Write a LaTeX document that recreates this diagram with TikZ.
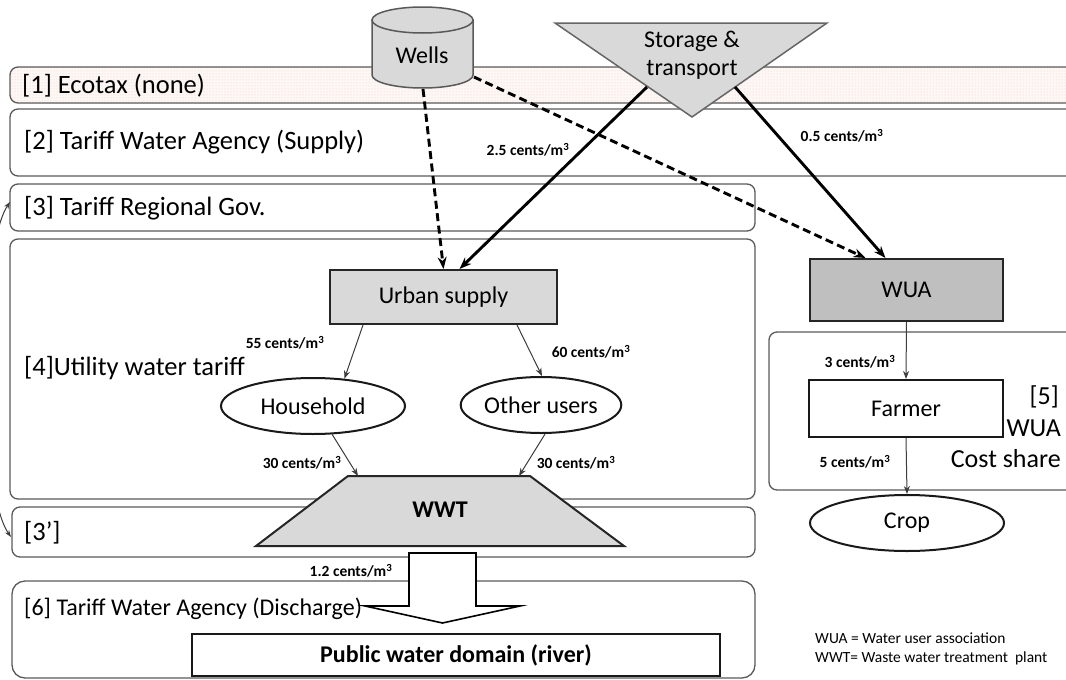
\documentclass[tikz,border=0pt]{standalone}
\usepackage{fontspec}
\setmainfont{Carlito}
\usetikzlibrary{patterns,arrows.meta,shapes.geometric}
\definecolor{boxgray}{RGB}{217,217,217}
\definecolor{wuagray}{RGB}{191,191,191}
\definecolor{bandline}{RGB}{90,90,90}
\definecolor{dotcol}{RGB}{238,200,190}
\definecolor{dotbg}{RGB}{253,248,246}
\definecolor{thinline}{RGB}{60,60,60}
\begin{document}
\begin{tikzpicture}[x=1pt,y=-1pt,
  band/.style={draw=bandline, line width=1.3pt, rounded corners=8pt, fill=white},
  bandlbl/.style={anchor=west, inner sep=0pt, font=\fontsize{26.5}{30}\selectfont},
  price/.style={inner sep=0pt, font=\fontsize{15.5}{17}\selectfont\bfseries},
  nodetxt/.style={font=\fontsize{24}{28}\selectfont},
  graybox/.style={draw=black!85, line width=2pt, fill=boxgray, inner sep=0pt, nodetxt},
  whitebox/.style={draw=black!90, line width=2pt, fill=white, inner sep=0pt, nodetxt},
  ellnode/.style={ellipse, draw=black!90, line width=2pt, fill=white, inner sep=0pt, nodetxt},
  fat/.style={line width=2.9pt, -{Stealth[length=12pt,width=9pt]}},
  fatdash/.style={fat, dash pattern=on 8pt off 4.5pt},
  thinarr/.style={draw=thinline, line width=1pt, -{Stealth[length=8pt,width=6pt]}},
  sidearr/.style={draw=thinline, line width=1pt, {Stealth[length=7pt,width=5pt]}-{Stealth[length=7pt,width=5pt]}}
]
\useasboundingbox (0,0) rectangle (1066,680);
\clip (0,0) rectangle (1066,680);

% ---------- bands ----------
\fill[dotbg, rounded corners=8pt] (10,67) rectangle (1090,103);
\fill[pattern=dots, pattern color=dotcol, rounded corners=8pt] (10,67) rectangle (1090,103);
\draw[draw=bandline, line width=1.3pt, rounded corners=8pt] (10,67) rectangle (1090,103);
\path[band] (10,109) rectangle (1090,176);
\path[band] (10,184) rectangle (755,231);
\path[band] (10,239) rectangle (755,499);
\path[band] (12,507) rectangle (755,557);
\path[band, rounded corners=13pt] (12,581) rectangle (755,678);
\path[band] (769,332) rectangle (1090,490);

\node[bandlbl] (l1) at (22,86) {[1] Ecotax (none)};
\node[bandlbl] (l2) at (24,142) {[2] Tariff Water Agency (Supply)};
\node[bandlbl] (l3) at (24,208) {[3] Tariff Regional Gov.};
\node[bandlbl] (l4) at (24,368) {[4]Utility water tariff};
\node[bandlbl] (l3p) at (24,533) {[3’]};
\node[bandlbl, font=\fontsize{24}{28}\selectfont] (l6) at (24,609) {[6] Tariff Water Agency (Discharge)};
\node[anchor=east, inner sep=0pt, font=\fontsize{26}{30}\selectfont] (l5a) at (1059,397) {[5]};
\node[anchor=east, inner sep=0pt, font=\fontsize{26}{30}\selectfont] (l5b) at (1061,428) {WUA};
\node[anchor=east, inner sep=0pt, font=\fontsize{26}{30}\selectfont] (l5c) at (1061,459) {Cost share};

% side arrow between [3] and [3']
\coordinate (b3) at (10,202);
\coordinate (b3p) at (11,537);
\draw[sidearr] (b3) .. controls (-22,250) and (-22,490) .. (b3p);

% ---------- sources ----------
\filldraw[fill=boxgray, draw=black!65, line width=1.5pt] (372,20) -- (372,75) arc[start angle=180, end angle=0, x radius=50.5, y radius=13] -- (473,20) -- cycle;
\filldraw[fill=boxgray, draw=black!65, line width=1.5pt] (422.5,20) ellipse[x radius=50.5, y radius=13];
\node[nodetxt] (wells) at (422,55) {Wells};
\coordinate (wellsB) at (423,89);
\coordinate (wellsR) at (474,77);

\filldraw[fill=boxgray, draw=black!60, line width=1.5pt] (555,23) -- (827,23) -- (692,117) -- cycle;
\node[nodetxt, align=center] (storage) at (692,55) {Storage \&\\transport};
\coordinate (stL) at (647,87);
\coordinate (stR) at (735,87);

% ---------- nodes ----------
\node[graybox, minimum width=227pt, minimum height=54pt] (urban) at (443.5,297) {Urban supply};
\node[graybox, fill=wuagray, minimum width=193pt, minimum height=62pt] (wua) at (906.5,290) {WUA};
\node[whitebox, minimum width=194pt, minimum height=57pt] (farmer) at (906,408.5) {Farmer};
\node[ellnode, minimum width=194pt, minimum height=56pt] (crop) at (907,523) {Crop};
\node[ellnode, minimum width=184pt, minimum height=56pt] (house) at (313,406) {Household};
\node[ellnode, minimum width=156pt, minimum height=56pt] (other) at (541,405) {Other users};

\filldraw[fill=boxgray, draw=black!85, line width=2pt] (348,476) -- (530,476) -- (624,546) -- (256,546) -- cycle;
\node[font=\fontsize{24}{28}\selectfont\bfseries] (wwt) at (440,510) {WWT};
\coordinate (wwtL) at (358,476);
\coordinate (wwtR) at (519,476);

\filldraw[fill=white, draw=black, line width=1.6pt] (409,553) -- (476,553) -- (476,606) -- (520,606) -- (442.5,623) -- (365,606) -- (409,606) -- cycle;
\node[whitebox, font=\fontsize{24}{28}\selectfont\bfseries, minimum width=528pt, minimum height=42pt] (river) at (456,655) {Public water domain (river)};

% ---------- connectors ----------
\draw[fatdash] (wellsB) -- (urban.north);
\draw[fatdash] (wellsR) -- ([xshift=-41pt]wua.north);
\draw[fat] (stL) -- ([xshift=16pt]urban.north);
\draw[fat] (stR) -- ([xshift=-21pt]wua.north);

\draw[thinarr] ([xshift=34pt]urban.south west) -- (house.41);
\draw[thinarr] ([xshift=-41pt]urban.south east) -- (other.88);
\draw[thinarr] (house.-56) -- (wwtL);
\draw[thinarr] (other.-82) -- (wwtR);
\draw[thinarr] (wua.south) -- (farmer.north);
\draw[thinarr] (farmer.south) -- (crop.north);

% ---------- prices ----------
\node[price] (p1) at (528,150) {2.5 cents/m\textsuperscript{3}};
\node[price] (p2) at (842,136) {0.5 cents/m\textsuperscript{3}};
\node[price] (p3) at (285,343) {55 cents/m\textsuperscript{3}};
\node[price] (p4) at (591,352) {60 cents/m\textsuperscript{3}};
\node[price] (p5) at (302,463) {30 cents/m\textsuperscript{3}};
\node[price] (p6) at (576,463) {30 cents/m\textsuperscript{3}};
\node[price] (p7) at (860,362) {3 cents/m\textsuperscript{3}};
\node[price] (p8) at (855,462) {5 cents/m\textsuperscript{3}};
\node[price] (p9) at (351,571) {1.2 cents/m\textsuperscript{3}};

% ---------- legend ----------
\node[anchor=west, inner sep=0pt, font=\fontsize{15.5}{18}\selectfont] (lg1) at (815,638) {WUA = Water user association};
\node[anchor=west, inner sep=0pt, font=\fontsize{15.5}{18}\selectfont] (lg2) at (815,658) {WWT= Waste water treatment\ \ plant};
\end{tikzpicture}
\end{document}
